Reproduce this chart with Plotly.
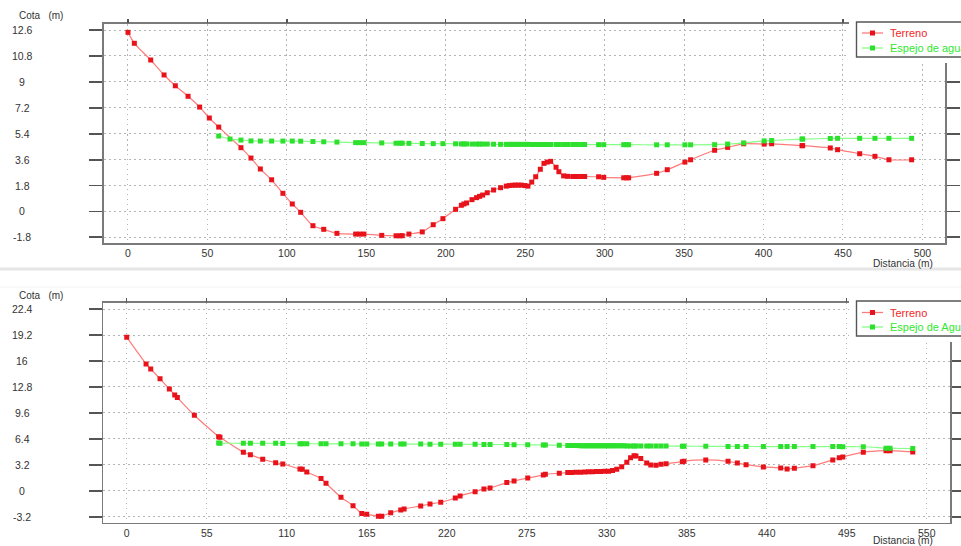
import plotly.graph_objects as go

W, H = 961, 546

# ---------------- data: top profile ----------------
ter1_x = [0, 4.0, 14.3, 22.7, 29.8, 37.8, 45.1, 51.2, 57.1, 71.1, 77.4, 83.3, 90.4, 97.5, 103.4,
          108.7, 116.4, 123.2, 131.5, 143.3, 145.8, 148.5, 159.7, 168.7, 171.2, 172.6, 176.8,
          185.2, 192.1, 198.2, 206.2, 209.8, 211.4, 213.1, 216.5, 219.4, 221.3, 223.2, 226.1,
          230.1, 234.5, 238.1, 240.0, 242.1, 243.8, 245.6, 247.5, 249.8, 251.7, 254.1, 256.6,
          259.5, 261.8, 263.9, 266.0, 269.4, 271.2, 274.2, 276.7, 279.9, 282.6, 285.5, 287.4,
          296.2, 299.4, 312.0, 313.8, 315.1, 332.7, 339.4, 350.5, 354.1, 369.2, 377.4, 387.5,
          400.4, 405.1, 424.2, 424.6, 442.0, 446.6, 460.5, 470.1, 478.9, 493.2]
ter1_y = [12.44, 11.68, 10.52, 9.48, 8.73, 8.0, 7.25, 6.49, 5.86, 4.43, 3.71, 2.95, 2.2, 1.26, 0.52,
          -0.06, -0.99, -1.24, -1.52, -1.57, -1.57, -1.57, -1.66, -1.69, -1.69, -1.68, -1.57,
          -1.42, -0.92, -0.5, 0.15, 0.43, 0.52, 0.59, 0.82, 0.96, 1.05, 1.14, 1.3,
          1.49, 1.65, 1.76, 1.8, 1.82, 1.83, 1.83, 1.83, 1.8, 1.76, 2.04, 2.41,
          2.93, 3.34, 3.43, 3.48, 3.07, 2.76, 2.47, 2.44, 2.43, 2.43, 2.43, 2.43,
          2.41, 2.37, 2.34, 2.34, 2.34, 2.65, 2.9, 3.43, 3.59, 4.25, 4.45, 4.7,
          4.68, 4.7, 4.57, 4.57, 4.41, 4.29, 4.01, 3.83, 3.59, 3.59]

agua1_x = [57.1, 64.2, 71.1, 77.4, 83.3, 90.4, 97.5, 103.4, 108.7, 116.4, 123.2, 131.5, 143.3,
           145.8, 148.5, 159.7, 168.7, 171.2, 172.6, 176.8, 185.2, 192.1, 198.2, 206.2, 209.8,
           211.4, 213.1, 216.5, 219.4, 221.3, 223.2, 226.1, 230.1, 234.5, 238.1, 240.0, 242.1,
           243.8, 245.6, 247.5, 249.8, 251.7, 254.1, 256.6, 259.5, 261.8, 263.9, 266.0, 269.4,
           271.2, 274.2, 276.7, 279.9, 282.6, 285.5, 287.4, 296.2, 299.4, 312.0, 313.8, 315.1,
           332.7, 339.4, 350.5, 354.1, 369.2, 377.4, 387.5, 400.4, 405.1, 424.2, 424.6, 442.0,
           446.6, 460.5, 470.1, 478.9, 493.2]
agua1_y = [5.24, 5.03, 4.96, 4.9, 4.89, 4.89, 4.89, 4.89, 4.88, 4.86, 4.84, 4.82, 4.78,
           4.78, 4.78, 4.76, 4.74, 4.74, 4.74, 4.73, 4.72, 4.71, 4.71, 4.7, 4.69,
           4.69, 4.69, 4.68, 4.68, 4.68, 4.68, 4.68, 4.67, 4.66, 4.66, 4.66, 4.66,
           4.66, 4.66, 4.66, 4.66, 4.66, 4.65, 4.65, 4.65, 4.65, 4.65, 4.65, 4.65,
           4.65, 4.65, 4.65, 4.65, 4.65, 4.65, 4.65, 4.64, 4.64, 4.64, 4.64, 4.64,
           4.63, 4.63, 4.63, 4.63, 4.64, 4.68, 4.76, 4.9, 4.93, 5.03, 5.03, 5.07,
           5.08, 5.08, 5.08, 5.08, 5.08]

# ---------------- data: bottom profile ----------------
ter2_x = [0, 13.3, 16.5, 22.9, 29.3, 33.0, 34.8, 46.5, 63.2, 64.1, 80.2, 85.0, 93.5, 102.4, 107.3,
          119.1, 120.7, 123.8, 133.6, 137.0, 147.3, 155.6, 161.6, 165.0, 173.0, 175.3, 181.5,
          188.4, 190.7, 202.1, 208.5, 215.9, 225.9, 229.2, 239.5, 245.6, 249.8, 261.3, 266.3,
          275.7, 286.4, 287.8, 297.4, 303.2, 305.9, 308.9, 312.0, 315.0, 317.6, 320.3, 323.0,
          325.8, 328.6, 331.3, 334.0, 336.9, 340.3, 343.8, 346.4, 348.8, 350.1, 353.4, 357.5,
          360.3, 363.9, 367.3, 370.8, 382.0, 383.1, 398.1, 413.4, 419.8, 425.8, 437.7, 449.6,
          454.0, 459.0, 471.8, 485.4, 489.9, 492.3, 506.4, 522.0, 524.8, 540.4]
ter2_y = [18.94, 15.65, 15.03, 13.8, 12.56, 11.82, 11.49, 9.31, 6.67, 6.6, 4.75, 4.45, 3.88, 3.46, 3.3,
          2.68, 2.65, 2.31, 1.49, 0.92, -0.81, -1.85, -2.83, -2.92, -3.16, -3.16, -2.71,
          -2.38, -2.25, -1.88, -1.64, -1.43, -0.9, -0.65, -0.12, 0.22, 0.34, 1.0, 1.2,
          1.57, 1.94, 2.03, 2.15, 2.23, 2.23, 2.27, 2.29, 2.31, 2.33, 2.35, 2.37,
          2.38, 2.39, 2.4, 2.5, 2.65, 2.97, 3.5, 4.05, 4.31, 4.29, 3.96, 3.42,
          3.18, 3.13, 3.26, 3.34, 3.58, 3.63, 3.8, 3.63, 3.42, 3.21, 2.93, 2.81,
          2.68, 2.77, 3.09, 3.8, 4.08, 4.17, 4.75, 4.94, 4.94, 4.78]

agua2_x = [63.2, 64.1, 80.2, 85.0, 93.5, 102.4, 107.3, 119.1, 120.7, 123.8, 133.6, 137.0, 147.3,
           155.6, 161.6, 165.0, 173.0, 175.3, 181.5, 188.4, 190.7, 202.1, 208.5, 215.9, 225.9,
           229.2, 239.5, 245.6, 249.8, 261.3, 266.3, 275.7, 286.4, 287.8, 297.4, 303.2, 305.9,
           307.4, 308.9, 310.5, 312.0, 313.5, 315.0, 316.3, 317.6, 319.0, 320.3, 321.7, 323.0,
           324.4, 325.8, 327.2, 328.6, 330.0, 331.3, 332.7, 334.0, 335.5, 336.9, 338.6, 340.3,
           342.0, 343.8, 346.4, 348.8, 350.1, 353.4, 357.5, 360.3, 363.9, 367.3, 370.8, 382.0,
           383.1, 398.1, 413.4, 419.8, 425.8, 437.7, 449.6, 454.0, 459.0, 471.8, 485.4, 489.9,
           492.3, 506.4, 522.0, 524.8, 540.4]
agua2_y = [5.88, 5.87, 5.85, 5.85, 5.84, 5.84, 5.83, 5.8, 5.8, 5.8, 5.79, 5.79, 5.78,
           5.78, 5.77, 5.77, 5.76, 5.76, 5.76, 5.76, 5.75, 5.75, 5.74, 5.74, 5.73,
           5.73, 5.72, 5.71, 5.71, 5.69, 5.68, 5.66, 5.64, 5.63, 5.61, 5.59, 5.58,
           5.57, 5.57, 5.57, 5.56, 5.56, 5.56, 5.56, 5.56, 5.56, 5.55, 5.55, 5.55,
           5.55, 5.55, 5.55, 5.55, 5.54, 5.54, 5.54, 5.54, 5.54, 5.54, 5.54, 5.54,
           5.54, 5.53, 5.53, 5.53, 5.53, 5.53, 5.52, 5.52, 5.52, 5.51, 5.51, 5.5,
           5.5, 5.47, 5.46, 5.46, 5.46, 5.45, 5.45, 5.45, 5.45, 5.44, 5.44, 5.44,
           5.43, 5.42, 5.25, 5.24, 5.2]

# ---------------- ticks ----------------
x1_ticks = [0, 50, 100, 150, 200, 250, 300, 350, 400, 450, 500]
y1_ticks = [12.6, 10.8, 9, 7.2, 5.4, 3.6, 1.8, 0, -1.8]
y1_labels = ["12.6", "10.8", "9", "7.2", "5.4", "3.6", "1.8", "0", "-1.8"]
x2_ticks = [0, 55, 110, 165, 220, 275, 330, 385, 440, 495, 550]
y2_ticks = [22.4, 19.2, 16, 12.8, 9.6, 6.4, 3.2, 0, -3.2]
y2_labels = ["22.4", "19.2", "16", "12.8", "9.6", "6.4", "3.2", "0", "-3.2"]

series_names = ["Terreno", ["Espejo de agua", "Espejo de Agua"]]

RED_M, RED_L = "#e8121a", "#ff7b7b"
GRN_M, GRN_L = "#2ee02e", "#86ff86"
LEG_RED, LEG_GRN = "#f02828", "#2ee82e"
FONT = "Liberation Sans, Arial, sans-serif"
FRAME = "#7a7a7a"
TICKC = "#555555"
GRID = "#b4b4b4"
TXT = "#333333"


def px(x):
    return x / W


def py(y):
    return 1 - y / H


fig = go.Figure()

for xs, ys, lc, mc, xa, ya in [
    (ter1_x, ter1_y, RED_L, RED_M, "x", "y"),
    (agua1_x, agua1_y, GRN_L, GRN_M, "x", "y"),
    (ter2_x, ter2_y, RED_L, RED_M, "x2", "y2"),
    (agua2_x, agua2_y, GRN_L, GRN_M, "x2", "y2"),
]:
    fig.add_trace(go.Scatter(
        x=xs, y=ys, xaxis=xa, yaxis=ya, mode="lines+markers",
        line=dict(color=lc, width=1.2, shape="spline", smoothing=0.6),
        marker=dict(symbol="square", size=5, color=mc, line=dict(width=0)),
        showlegend=False, hoverinfo="skip"))

# invisible traces to host the top tick axes
fig.add_trace(go.Scatter(x=[None], y=[None], xaxis="x3", yaxis="y", showlegend=False))
fig.add_trace(go.Scatter(x=[None], y=[None], xaxis="x4", yaxis="y2", showlegend=False))

panels = [
    dict(xd=[104, 945], yd=[24, 243], xr=[-15.1, 514.2], yr=[-2.19, 13.02],
         xt=x1_ticks, yt=y1_ticks),
    dict(xd=[103.3, 950], yd=[302.7, 522.7], xr=[-16.1, 566.0], yr=[-3.95, 23.2],
         xt=x2_ticks, yt=y2_ticks),
]

layout = dict(
    width=W, height=H, margin=dict(l=0, r=0, t=0, b=0, autoexpand=False),
    paper_bgcolor="white", plot_bgcolor="white", showlegend=False,
    font=dict(family=FONT, color=TXT, size=10),
)

GRID_DASH = "1.5px,3.5px"

for i, p in enumerate(panels):
    sx = "" if i == 0 else "2"
    top = "3" if i == 0 else "4"
    dom_x = [px(p["xd"][0]), px(p["xd"][1])]
    dom_y = [py(p["yd"][1]), py(p["yd"][0])]
    layout["xaxis" + sx] = dict(
        domain=dom_x, range=p["xr"], tickvals=p["xt"], ticks="", showline=True,
        mirror=True, linecolor=FRAME, linewidth=1.6, showgrid=True, gridcolor=GRID,
        griddash=GRID_DASH, gridwidth=1, zeroline=False, tickfont=dict(size=10.5, color=TXT),
        anchor="y" + sx, fixedrange=True)
    layout["yaxis" + sx] = dict(
        domain=dom_y, range=p["yr"], tickvals=p["yt"], showticklabels=False,
        ticks="outside", ticklen=13, tickwidth=1.8, tickcolor=TICKC, showline=True,
        mirror="ticks", linecolor=FRAME, linewidth=1.6, showgrid=True, gridcolor=GRID,
        griddash=GRID_DASH, gridwidth=1, zeroline=False, anchor="x" + sx, fixedrange=True)
    layout["xaxis" + top] = dict(
        overlaying="x" + sx, side="top", range=p["xr"], tickvals=p["xt"],
        ticks="outside", ticklen=4, tickwidth=1.4, tickcolor=TICKC,
        showticklabels=False, showgrid=False, showline=False, zeroline=False,
        anchor="y" + sx, fixedrange=True)

fig.update_layout(**layout)

annotations = []
shapes = []

# y tick labels (centered column at left)
for ticks, labels, yref in [(y1_ticks, y1_labels, "y"), (y2_ticks, y2_labels, "y2")]:
    for v, t in zip(ticks, labels):
        annotations.append(dict(x=px(22), xref="paper", y=v, yref=yref, text=t,
                                showarrow=False, xanchor="center", yanchor="middle",
                                font=dict(size=10.5, color=TXT)))

# axis titles
for cy, dy in [(15, 263.5), (295, 540.5)]:
    annotations.append(dict(x=px(41), y=py(cy), xref="paper", yref="paper",
                            text="Cota\u00a0\u00a0\u00a0(m)", showarrow=False,
                            xanchor="center", yanchor="middle", font=dict(size=10, color=TXT)))
    annotations.append(dict(x=px(903), y=py(dy), xref="paper", yref="paper",
                            text="Distancia (m)", showarrow=False,
                            xanchor="center", yanchor="middle", font=dict(size=10.2, color=TXT)))

# separator between panels
shapes.append(dict(type="line", xref="paper", yref="paper", x0=0, x1=1,
                   y0=py(269), y1=py(269), line=dict(color="#e6e6e6", width=3)))
shapes.append(dict(type="line", xref="paper", yref="paper", x0=0, x1=1,
                   y0=py(287), y1=py(287), line=dict(color="#f2f2f2", width=1)))

# legends (boxes partially cut by the right edge)
for (wy0, wy1, by0, by1, t1, t2), name2 in zip(
        [(0, 63, 22, 57, 33, 48), (288, 342, 301, 336, 312.5, 327)], series_names[1]):
    shapes.append(dict(type="rect", xref="paper", yref="paper", layer="above",
                       x0=px(849), x1=px(975), y0=py(wy1), y1=py(wy0),
                       fillcolor="white", line=dict(width=0)))
    shapes.append(dict(type="rect", xref="paper", yref="paper", layer="above",
                       x0=px(856.5), x1=px(990), y0=py(by1), y1=py(by0),
                       fillcolor="white", line=dict(color="#555555", width=1.4)))
    for ty, lc, mc, tc, name in [(t1, RED_L, RED_M, LEG_RED, series_names[0]),
                                 (t2, GRN_L, GRN_M, LEG_GRN, name2)]:
        shapes.append(dict(type="line", xref="paper", yref="paper", layer="above",
                           x0=px(862), x1=px(883), y0=py(ty), y1=py(ty),
                           line=dict(color=lc, width=1.3)))
        shapes.append(dict(type="rect", xref="paper", yref="paper", layer="above",
                           x0=px(870), x1=px(875), y0=py(ty + 2.5), y1=py(ty - 2.5),
                           fillcolor=mc, line=dict(width=0)))
        annotations.append(dict(x=px(888), y=py(ty), xref="paper", yref="paper",
                                text=name, showarrow=False, xanchor="left",
                                yanchor="middle", font=dict(size=11, color=tc)))

fig.update_layout(annotations=annotations, shapes=shapes)

fig.write_html(
    "out.html",
    config={"displayModeBar": False, "staticPlot": True},
    post_script="document.body.style.margin='0';document.documentElement.style.overflow='hidden';",
)
